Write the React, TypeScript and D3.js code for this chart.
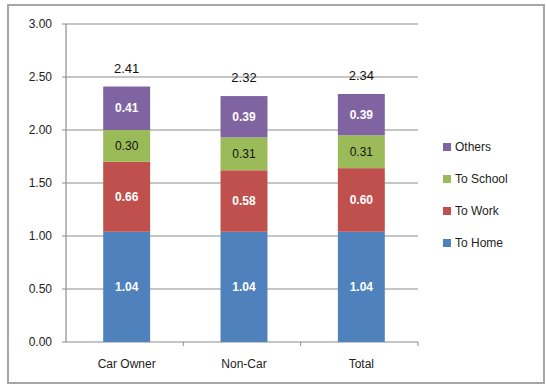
import React from 'react'
import * as d3 from 'd3'

const categories = ['Car Owner', 'Non-Car', 'Total']
const seriesNames = ['To Home', 'To Work', 'To School', 'Others']
const toHome = [1.04, 1.04, 1.04]
const toWork = [0.66, 0.58, 0.6]
const toSchool = [0.3, 0.31, 0.31]
const others = [0.41, 0.39, 0.39]
const totals = [2.41, 2.32, 2.34]
const yTicks = [0, 0.5, 1, 1.5, 2, 2.5, 3]

const colors = ['#4F81BD', '#C0504D', '#9BBB59', '#8064A2']
const labelColors = ['#fff', '#fff', '#111', '#fff']

const W = 546
const H = 387
const plot = { left: 66, right: 418, top: 24, bottom: 342 }

const App: React.FC = () => {
  const values = [toHome, toWork, toSchool, others]
  const rows = categories.map((c, i) => {
    const r: any = { cat: c }
    seriesNames.forEach((s, k) => (r[s] = values[k][i]))
    return r
  })
  const stacked = d3.stack<any>().keys(seriesNames)(rows)

  // bars sit a little right of the band centre, as in the reference
  const x = d3.scaleBand().domain(categories).range([plot.left + 2, plot.right + 2]).paddingInner(0.6).paddingOuter(0.3)
  const xOuter = d3.scaleBand().domain(categories).range([plot.left, plot.right])
  const y = d3.scaleLinear().domain([0, 3]).range([plot.bottom, plot.top])

  const font = '"Liberation Sans", Arial, sans-serif'
  const legendOrder = [3, 2, 1, 0]

  return (
    <svg width={W} height={H} style={{ position: 'absolute', left: 0, top: 0 }} fontFamily={font}>
      <rect x={0} y={0} width={W} height={H} fill="#fff" />
      <rect x={8} y={5} width={536} height={378} fill="#fff" stroke="#a6a6a6" strokeWidth={2} />
      {yTicks.map(t => (
        <g key={t}>
          <line x1={plot.left - 4} x2={plot.right} y1={y(t)} y2={y(t)} stroke="#8c8c8c" strokeWidth={1.2} />
          <text x={52} y={y(t)} dy="0.35em" textAnchor="end" fontSize={12} fill="#222">
            {d3.format('.2f')(t)}
          </text>
        </g>
      ))}
      <line x1={plot.left} x2={plot.left} y1={plot.top} y2={plot.bottom} stroke="#8c8c8c" strokeWidth={1.2} />
      {categories.map(c => (
        <line
          key={c}
          x1={(xOuter(c) ?? 0) + xOuter.bandwidth()}
          x2={(xOuter(c) ?? 0) + xOuter.bandwidth()}
          y1={plot.bottom}
          y2={plot.bottom + 4}
          stroke="#8c8c8c"
        />
      ))}
      {stacked.map((layer, k) => (
        <g key={layer.key}>
          {layer.map((d, i) => {
            const bx = x(categories[i]) ?? 0
            const y0 = y(d[0])
            const y1 = y(d[1])
            return (
              <g key={i}>
                <rect x={bx} y={y1} width={x.bandwidth()} height={y0 - y1} fill={colors[k]} />
                <text
                  x={bx + x.bandwidth() / 2}
                  y={(y0 + y1) / 2}
                  dy="0.35em"
                  textAnchor="middle"
                  fontSize={12}
                  fontWeight={k === 2 ? 'normal' : 'bold'}
                  fill={labelColors[k]}
                >
                  {d3.format('.2f')(d[1] - d[0])}
                </text>
              </g>
            )
          })}
        </g>
      ))}
      {categories.map((c, i) => (
        <text
          key={c}
          x={(x(c) ?? 0) + x.bandwidth() / 2}
          y={y(totals[i]) - 14}
          textAnchor="middle"
          fontSize={13}
          fill="#111"
        >
          {totals[i].toFixed(2)}
        </text>
      ))}
      {categories.map(c => (
        <text
          key={c}
          x={(x(c) ?? 0) + x.bandwidth() / 2}
          y={plot.bottom + 26}
          textAnchor="middle"
          fontSize={12}
          fill="#222"
        >
          {c}
        </text>
      ))}
      {legendOrder.map((k, j) => (
        <g key={k} transform={`translate(443, ${147 + j * 32})`}>
          <rect x={0} y={-4} width={8} height={8} fill={colors[k]} />
          <text x={12} y={0} dy="0.35em" fontSize={12} fill="#222">
            {seriesNames[k]}
          </text>
        </g>
      ))}
    </svg>
  )
}

export default App
